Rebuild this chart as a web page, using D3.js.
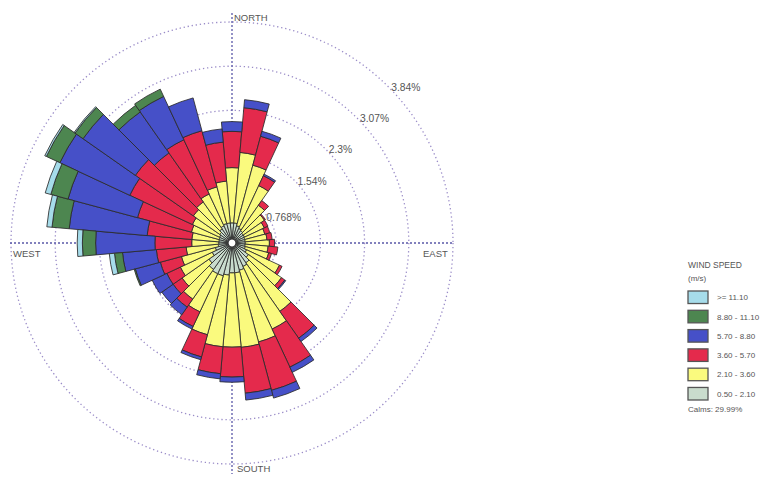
<!DOCTYPE html>
<html><head><meta charset="utf-8">
<script src="https://cdn.jsdelivr.net/npm/d3@7"></script>
<style>html,body{margin:0;padding:0;background:#fff;}svg{display:block;}</style>
</head><body>
<svg id="c" width="763" height="480"></svg>
<script>
// Directions (degrees, clockwise from north)
const directions = [0,10,20,30,40,50,60,70,80,90,100,110,120,130,140,150,160,170,180,190,200,210,220,230,240,250,260,270,280,290,300,310,320,330,340,350];
// Frequency (%) per wind speed class
const s050_210 = [0.35,0.35,0.31,0.28,0.26,0.24,0.24,0.23,0.23,0.23,0.23,0.24,0.28,0.35,0.42,0.45,0.49,0.52,0.52,0.56,0.59,0.59,0.56,0.49,0.38,0.30,0.24,0.23,0.23,0.23,0.24,0.26,0.30,0.33,0.35,0.35];
const s210_360 = [0.96,1.23,1.09,0.82,0.54,0.45,0.38,0.36,0.38,0.42,0.40,0.42,0.63,0.70,1.03,1.20,1.29,1.30,1.29,1.25,1.06,0.73,0.63,0.57,0.61,0.61,0.56,0.47,0.47,0.50,0.52,0.56,0.57,0.61,0.66,0.73];
const s360_570 = [0.63,0.78,0.52,0.19,0.10,0.02,0.07,0.09,0.09,0.09,0.17,0.05,0.05,0.07,0.57,0.73,0.87,0.80,0.52,0.47,0.40,0.28,0.17,0.19,0.26,0.38,0.52,0.64,0.78,0.97,1.20,1.23,1.04,1.04,1.01,0.68];
const s570_880 = [0.17,0.14,0.09,0.03,0,0,0,0,0,0,0,0,0,0.02,0.07,0.10,0.14,0.12,0.09,0.09,0.05,0.05,0.16,0.24,0.28,0.45,0.59,1.03,1.36,1.25,1.34,1.11,0.87,0.83,0.59,0.23];
const s880_1110 = [0,0,0,0,0,0,0,0,0,0,0,0,0,0,0,0,0,0,0,0,0,0,0,0,0,0.02,0.14,0.23,0.30,0.31,0.26,0.17,0.14,0.14,0,0];
const s1110 = [0,0,0,0,0,0,0,0,0,0,0,0,0,0,0,0,0,0,0,0,0,0,0,0,0,0,0.09,0.09,0.09,0.10,0.03,0.02,0,0,0,0];

const classKeys = ["c1","c2","c3","c4","c5","c6"];
const classLabels = ["0.50 - 2.10","2.10 - 3.60","3.60 - 5.70","5.70 - 8.80","8.80 - 11.10",">= 11.10"];
const classColors = ["#c9dccd","#fafa7e","#e42a4c","#4650c8","#4d8650","#a6dcea"];

const ringValues = [0.768,1.536,2.304,3.072,3.84];
const ringLabels = ["0.768%","1.54%","2.3%","3.07%","3.84%"];
const compass = [{t:"NORTH",a:0},{t:"EAST",a:90},{t:"SOUTH",a:180},{t:"WEST",a:270}];
const legendTitle = "WIND SPEED";
const legendUnit = "(m/s)";
const calmsText = "Calms: 29.99%";

const rows = directions.map((d,i)=>({dir:d,c1:s050_210[i],c2:s210_360[i],c3:s360_570[i],c4:s570_880[i],c5:s880_1110[i],c6:s1110[i]}));

const svg = d3.select("#c");
const cx = 232, cy = 243, R = 221;
const r = d3.scaleLinear().domain([0, 3.84]).range([0, R]);
const color = d3.scaleOrdinal().domain(classKeys).range(classColors);
const g = svg.append("g").attr("transform",`translate(${cx},${cy})`);

// grid rings
g.selectAll("circle.ring").data(ringValues).join("circle")
  .attr("class","ring").attr("r",d=>r(d))
  .attr("fill","none").attr("stroke","#9a8cc8").attr("stroke-width",1.3)
  .attr("stroke-dasharray","1.3,2.8");
// axes
g.append("line").attr("x1",0).attr("x2",0).attr("y1",-R-9).attr("y2",R+10)
  .attr("stroke","#5a58a8").attr("stroke-width",1.3).attr("stroke-dasharray","2,2");
g.append("line").attr("x1",-R-1).attr("x2",R+1).attr("y1",0).attr("y2",0)
  .attr("stroke","#5a58a8").attr("stroke-width",1.3).attr("stroke-dasharray","2,2");

// bars
const stack = d3.stack().keys(classKeys);
const series = stack(rows);
const half = 5 * Math.PI/180;
const arc = d3.arc()
  .innerRadius(d=>r(d[0])).outerRadius(d=>r(d[1]))
  .startAngle(d=>d.data.dir*Math.PI/180 - half)
  .endAngle(d=>d.data.dir*Math.PI/180 + half);
g.selectAll("g.layer").data(series).join("g").attr("class","layer")
  .attr("fill",d=>color(d.key))
  .selectAll("path").data(d=>d.filter(p=>p[1]-p[0]>0)).join("path")
  .attr("d",arc).attr("stroke","#2a2a2a").attr("stroke-width",0.85).attr("stroke-linejoin","miter");

// center
g.append("circle").attr("r",4).attr("fill","#fff").attr("stroke","#333").attr("stroke-width",1.2);

// ring labels
g.selectAll("text.rl").data(ringValues).join("text").attr("class","rl")
  .attr("x",d=>r(d)*Math.SQRT1_2+3).attr("y",(d,i)=>-r(d)*Math.SQRT1_2+(i===0?9:4))
  .text((d,i)=>ringLabels[i])
  .attr("font-family","Liberation Sans, Arial, sans-serif").attr("font-size",10.3).attr("fill","#555");

// compass labels
const cpos = {NORTH:[2,-222],EAST:[191,14],SOUTH:[5,229],WEST:[-219,14]};
g.selectAll("text.cp").data(compass).join("text").attr("class","cp")
  .attr("x",d=>cpos[d.t][0]).attr("y",d=>cpos[d.t][1]).text(d=>d.t)
  .attr("font-family","Liberation Sans, Arial, sans-serif").attr("font-size",9.5).attr("fill","#555");

// legend
const lg = svg.append("g").attr("transform","translate(688,0)");
const lf = "Liberation Sans, Arial, sans-serif";
lg.append("text").attr("x",0).attr("y",268).text(legendTitle).attr("font-family",lf).attr("font-size",8.5).attr("fill","#555");
lg.append("text").attr("x",0).attr("y",281).text(legendUnit).attr("font-family",lf).attr("font-size",8).attr("fill","#555");
const legendOrder = classKeys.slice().reverse();
const ly = d3.scaleBand().domain(legendOrder).range([291,400]).paddingInner(0.35);
lg.selectAll("rect.lb").data(legendOrder).join("rect").attr("class","lb")
  .attr("x",0).attr("y",d=>ly(d)).attr("width",20).attr("height",ly.bandwidth())
  .attr("fill",d=>color(d)).attr("stroke","#555").attr("stroke-width",1.3);
lg.selectAll("text.ll").data(legendOrder).join("text").attr("class","ll")
  .attr("x",29).attr("y",d=>ly(d)+ly.bandwidth()/2+3)
  .text(d=>classLabels[classKeys.indexOf(d)])
  .attr("font-family",lf).attr("font-size",8).attr("fill","#555");
lg.append("text").attr("x",0).attr("y",412).text(calmsText).attr("font-family",lf).attr("font-size",8).attr("fill","#555");
</script>
</body></html>
